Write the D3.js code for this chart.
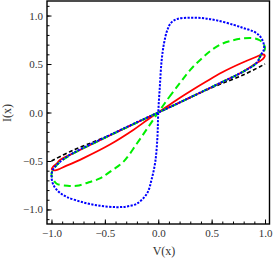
<!DOCTYPE html>
<html>
<head>
<meta charset="utf-8">
<script src="https://cdn.jsdelivr.net/npm/d3@7"></script>
<style>
  html, body { margin: 0; padding: 0; background: #fff; }
  svg { display: block; }
</style>
</head>
<body>
<svg id="chart" width="274" height="259"></svg>
<script>
// ---- data ----
const majorTicks = [-1.0, -0.5, 0.0, 0.5, 1.0];
const minorTicksX = [-1.0,-0.9,-0.8,-0.7,-0.6,-0.5,-0.4,-0.3,-0.2,-0.1,0,0.1,0.2,0.3,0.4,0.5,0.6,0.7,0.8,0.9,1.0];
const minorTicksY = [-1.1,-1.0,-0.9,-0.8,-0.7,-0.6,-0.5,-0.4,-0.3,-0.2,-0.1,0,0.1,0.2,0.3,0.4,0.5,0.6,0.7,0.8,0.9,1.0,1.1];
const xTitle = "V(x)";
const yTitle = "I(x)";

const blackV = [-1.0, -0.8, -0.5, 0, 0.5, 0.8, 1.0];
const blackI = [-0.5, -0.39, -0.255, 0, 0.255, 0.39, 0.5];

const redV = [0, 0.1, 0.2, 0.3, 0.45, 0.6, 0.77, 0.92, 0.975, 0.998, 0.99, 0.96, 0.92, 0.77, 0.6, 0.45, 0.2, 0,
              -0.2, -0.45, -0.6, -0.77, -0.92, -0.951, -0.985, -0.998, -0.967, -0.858, -0.7, -0.452, -0.234, -0.1];
const redI = [0, 0.075, 0.15, 0.22, 0.32, 0.415, 0.505, 0.575, 0.598, 0.59, 0.565, 0.535, 0.51, 0.407, 0.315, 0.235, 0.103, 0,
              -0.103, -0.235, -0.315, -0.407, -0.49, -0.527, -0.56, -0.585, -0.597, -0.548, -0.47, -0.33, -0.18, -0.075];

const greenV = [0, 0.1, 0.2, 0.3, 0.4, 0.5, 0.6, 0.7, 0.8, 0.9, 0.95, 0.985, 1.0, 0.99, 0.965, 0.92, 0.77, 0.6, 0.45, 0.2, 0,
                -0.2, -0.45, -0.6, -0.77, -0.92, -0.965, -0.99, -1.0, -0.983, -0.951, -0.85, -0.764, -0.65, -0.546, -0.45, -0.327, -0.2, -0.1];
const greenI = [0, 0.155, 0.3, 0.44, 0.55, 0.645, 0.71, 0.745, 0.765, 0.765, 0.745, 0.71, 0.664, 0.63, 0.6, 0.51, 0.407, 0.315, 0.235, 0.103, 0,
                -0.103, -0.235, -0.315, -0.407, -0.51, -0.56, -0.6, -0.64, -0.69, -0.735, -0.755, -0.756, -0.72, -0.68, -0.61, -0.509, -0.32, -0.16];

const blueV = [0, 0.015, 0.032, 0.055, 0.085, 0.12, 0.18, 0.3, 0.43, 0.55, 0.707, 0.8, 0.894, 0.95, 0.978, 0.992, 0.985, 0.965, 0.92, 0.77, 0.6, 0.45, 0.2, 0,
               -0.2, -0.4, -0.6, -0.8, -0.9, -0.95, -0.985, -1.0, -0.983, -0.93, -0.858, -0.7, -0.546, -0.39, -0.3, -0.2, -0.105, -0.06, -0.028, -0.008];
const blueI = [0, 0.27, 0.54, 0.72, 0.85, 0.925, 0.965, 0.978, 0.972, 0.95, 0.904, 0.87, 0.835, 0.79, 0.74, 0.68, 0.635, 0.6, 0.51, 0.407, 0.315, 0.235, 0.103, 0,
               -0.1, -0.205, -0.31, -0.42, -0.49, -0.54, -0.585, -0.65, -0.745, -0.82, -0.87, -0.928, -0.962, -0.976, -0.97, -0.94, -0.835, -0.68, -0.51, -0.26];

// ---- layout ----
const svg = d3.select("#chart");
const L = 47, R = 269.5, T = 1, B = 224;
const x = d3.scaleLinear().domain([-1.042, 1.042]).range([L, R]);
const y = d3.scaleLinear().domain([-1.15, 1.15]).range([B, T]);

svg.append("defs").append("clipPath").attr("id", "clip")
  .append("rect").attr("x", L).attr("y", T).attr("width", R - L).attr("height", B - T);

const fmt = v => d3.format(".1f")(v);
const font = "'Liberation Serif', 'DejaVu Serif', serif";

// minor ticks
svg.append("g").attr("transform", `translate(0,${B})`)
  .call(d3.axisBottom(x).tickValues(minorTicksX).tickSize(-2.5).tickFormat(""))
  .call(g => g.select(".domain").remove());
svg.append("g").attr("transform", `translate(${L},0)`)
  .call(d3.axisLeft(y).tickValues(minorTicksY).tickSize(-2.5).tickFormat(""))
  .call(g => g.select(".domain").remove());

// major ticks + labels
const xAx = svg.append("g").attr("transform", `translate(0,${B})`)
  .call(d3.axisBottom(x).tickValues(majorTicks).tickSize(-4.5).tickPadding(5).tickFormat(fmt));
const yAx = svg.append("g").attr("transform", `translate(${L},0)`)
  .call(d3.axisLeft(y).tickValues(majorTicks).tickSize(-4.5).tickPadding(4).tickFormat(fmt));
[xAx, yAx].forEach(g => {
  g.select(".domain").remove();
  g.selectAll("text").attr("font-family", font).attr("font-size", 11).attr("fill", "#333");
  g.selectAll("line").attr("stroke-width", 1);
});
svg.selectAll("g line").attr("stroke", "#000");

// curves
const line = d3.line().x(d => x(d[0])).y(d => y(d[1]));
const zipPts = (V, I) => V.map((v, i) => [v, I[i]]);
const plot = svg.append("g").attr("clip-path", "url(#clip)");

plot.append("path")
  .attr("d", line.curve(d3.curveCatmullRom.alpha(0.5))(zipPts(blackV, blackI)))
  .attr("fill", "none").attr("stroke", "#000").attr("stroke-width", 1.6)
  .attr("stroke-dasharray", "4,2.5");

const closed = d3.line().x(d => x(d[0])).y(d => y(d[1])).curve(d3.curveCatmullRomClosed.alpha(0.5));

plot.append("path")
  .attr("d", closed(zipPts(redV, redI)))
  .attr("fill", "none").attr("stroke", "#ff0000").attr("stroke-width", 1.8);

plot.append("path")
  .attr("d", closed(zipPts(greenV, greenI)))
  .attr("fill", "none").attr("stroke", "#00ee00").attr("stroke-width", 2)
  .attr("stroke-dasharray", "7,4");

plot.append("path")
  .attr("d", closed(zipPts(blueV, blueI)))
  .attr("fill", "none").attr("stroke", "#0000ff").attr("stroke-width", 2)
  .attr("stroke-dasharray", "2.2,1.4");

// frame
svg.append("rect").attr("x", L).attr("y", T).attr("width", R - L).attr("height", B - T)
  .attr("fill", "none").attr("stroke", "#000").attr("stroke-width", 1.4);

// titles
svg.append("text").attr("x", 164).attr("y", 254.5).attr("text-anchor", "middle")
  .attr("font-family", font).attr("font-size", 12).attr("fill", "#333").text(xTitle);
svg.append("text").attr("transform", "translate(11,113) rotate(-90)").attr("text-anchor", "middle")
  .attr("font-family", font).attr("font-size", 12).attr("fill", "#333").text(yTitle);
</script>
</body>
</html>
